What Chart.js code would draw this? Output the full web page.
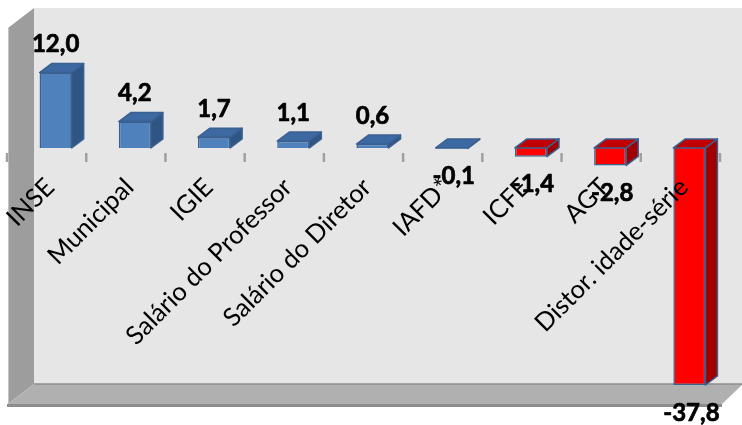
<!DOCTYPE html>
<html>
<head>
<meta charset="utf-8">
<script src="https://cdn.jsdelivr.net/npm/chart.js@4.4.0/dist/chart.umd.min.js"></script>
<style>
  html, body { margin: 0; padding: 0; background: #fff; }
  #wrap { width: 742px; height: 425px; }
</style>
</head>
<body>
<div id="wrap"><canvas id="chart" width="742" height="425"></canvas></div>
<script>
// Effect of each factor on the indicator
const categories = ['INSE', 'Municipal', 'IGIE', 'Salário do Professor', 'Salário do Diretor',
                    'IAFD*', 'ICFE', 'AGT', 'Distor. idade-série'];
const values = [12.0, 4.2, 1.7, 1.1, 0.6, -0.1, -1.4, -2.8, -37.8];
const yMin = -37.8;
const yMax = 22.3;

// face colours: front / top / side
const blue = ['#4f81bd', '#3d69a3', '#2f5585'];
const red = ['#ff0000', '#c00000', '#a00000'];
const barStyle = [blue, blue, blue, blue, blue, blue, red, red, red];
const edgeColor = '#3a6090';

const DX = 12, DY = -9; // depth offset of the 3D boxes

function fmt(v) {
    return v.toFixed(1).replace('.', ',');
}

// walls, floor and tick marks behind the bars
const wallsPlugin = {
    id: 'walls',
    beforeDatasetsDraw(chart) {
        const ctx = chart.ctx;
        const area = chart.chartArea;
        ctx.save();

        // back wall
        ctx.fillStyle = '#e6e6e6';
        ctx.fillRect(34, 8, 742 - 34, 384 - 8);

        // left side wall
        ctx.beginPath();
        ctx.moveTo(8, 28);
        ctx.lineTo(34, 8);
        ctx.lineTo(34, 384);
        ctx.lineTo(8, 404);
        ctx.closePath();
        ctx.fillStyle = '#9d9d9d';
        ctx.fill();
        ctx.strokeStyle = '#c4c4c4';
        ctx.lineWidth = 1;
        ctx.beginPath();
        ctx.moveTo(8.5, 28);
        ctx.lineTo(8.5, 404);
        ctx.stroke();

        // floor
        ctx.beginPath();
        ctx.moveTo(34, 384);
        ctx.lineTo(742, 384);
        ctx.lineTo(742, 385);
        ctx.lineTo(722, 404);
        ctx.lineTo(8, 404);
        ctx.closePath();
        ctx.fillStyle = '#b0b0b0';
        ctx.fill();

        ctx.strokeStyle = '#8c8c8c';
        ctx.lineWidth = 1.5;
        ctx.beginPath();
        ctx.moveTo(34, 384);
        ctx.lineTo(742, 384);
        ctx.stroke();
        ctx.lineWidth = 3;
        ctx.beginPath();
        ctx.moveTo(7, 405.5);
        ctx.lineTo(722, 405.5);
        ctx.stroke();

        // category tick marks
        const step = (area.right - area.left) / categories.length;
        ctx.strokeStyle = '#a0a0a0';
        ctx.lineWidth = 2.5;
        for (let i = 0; i <= categories.length; i++) {
            const tx = area.left - 9 + i * step;
            ctx.beginPath();
            ctx.moveTo(tx, 153);
            ctx.lineTo(tx, 162);
            ctx.stroke();
        }
        ctx.restore();
    }
};

// top and side faces, axis labels and value labels
const boxPlugin = {
    id: 'box3d',
    afterDatasetsDraw(chart) {
        const ctx = chart.ctx;
        const meta = chart.getDatasetMeta(0);
        ctx.save();
        ctx.lineWidth = 1.5;
        ctx.strokeStyle = edgeColor;
        ctx.lineJoin = 'round';

        meta.data.forEach((bar, i) => {
            const p = bar.getProps(['x', 'y', 'base', 'width'], true);
            const left = p.x - p.width / 2;
            const right = p.x + p.width / 2;
            const top = Math.min(p.y, p.base);
            const bottom = Math.max(p.y, p.base);
            const st = barStyle[i];

            // side face
            ctx.beginPath();
            ctx.moveTo(right, top);
            ctx.lineTo(right + DX, top + DY);
            ctx.lineTo(right + DX, bottom + DY);
            ctx.lineTo(right, bottom);
            ctx.closePath();
            ctx.fillStyle = st[2];
            ctx.fill();
            ctx.stroke();

            // top face
            ctx.beginPath();
            ctx.moveTo(left, top);
            ctx.lineTo(left + DX, top + DY);
            ctx.lineTo(right + DX, top + DY);
            ctx.lineTo(right, top);
            ctx.closePath();
            ctx.fillStyle = st[1];
            ctx.fill();
            ctx.stroke();
        });

        // category labels, rotated 45 degrees
        const area = chart.chartArea;
        const step = (area.right - area.left) / categories.length;
        ctx.fillStyle = '#000';
        ctx.strokeStyle = '#000';
        ctx.font = '25.5px Lato';
        ctx.textAlign = 'right';
        ctx.textBaseline = 'top';
        categories.forEach((c, i) => {
            const cx = area.left - 9 + (i + 0.5) * step;
            ctx.save();
            ctx.translate(cx - 5.5, 174);
            ctx.rotate(-Math.PI / 4);
            ctx.fillText(c, 0, 0);
            ctx.restore();
        });

        // value labels (a thin stroke makes them a bit heavier)
        ctx.font = 'bold 24px Lato';
        ctx.textAlign = 'center';
        ctx.textBaseline = 'middle';
        ctx.lineWidth = 0.7;
        meta.data.forEach((bar, i) => {
            const p = bar.getProps(['x', 'y', 'base'], true);
            const v = values[i];
            const ly = v >= 0 ? Math.min(p.y, p.base) - 28 : Math.max(p.y, p.base) + 28;
            const lx = v >= 0 ? p.x : p.x + 2;
            ctx.fillText(fmt(v), lx, ly);
            ctx.strokeText(fmt(v), lx, ly);
        });
        ctx.restore();
    }
};

new Chart(document.getElementById('chart'), {
    type: 'bar',
    data: {
        labels: categories,
        datasets: [{
            data: values,
            backgroundColor: barStyle.map(s => s[0]),
            borderColor: edgeColor,
            borderWidth: 1.5,
            barPercentage: 0.405,
            categoryPercentage: 1.0
        }]
    },
    options: {
        responsive: false,
        animation: false,
        layout: { padding: { left: 16, right: 13, top: 8, bottom: 40 } },
        plugins: {
            legend: { display: false },
            tooltip: { enabled: false }
        },
        scales: {
            x: { display: false },
            y: { display: false, min: yMin, max: yMax }
        }
    },
    plugins: [wallsPlugin, boxPlugin]
});
</script>
</body>
</html>
